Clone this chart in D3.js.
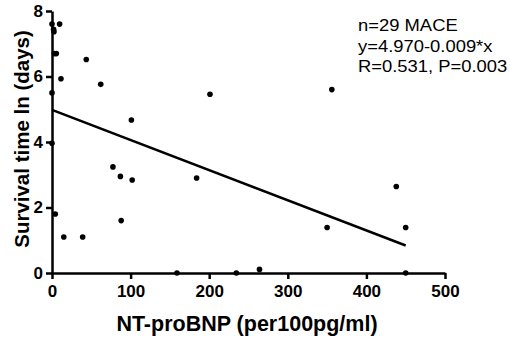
<!DOCTYPE html>
<html>
<head>
<meta charset="utf-8">
<script src="https://cdn.jsdelivr.net/npm/d3@7"></script>
<style>
  body { margin: 0; background: #fff; }
  svg text { font-family: "Liberation Sans", Arial, sans-serif; }
</style>
</head>
<body>
<script>
// NT-proBNP (per100pg/ml) vs survival time ln(days)
const ntProBNP = [0, 9.7, 2, 2.5, 3, 5.5, 43.6, 11.4, 62, 0, 101, 0, 77.5, 87, 102, 4.2, 15, 39, 88,
                  201, 356, 184, 350, 159, 234.5, 264, 438, 450, 450];
const survival = [7.6, 7.6, 7.44, 7.37, 6.7, 6.7, 6.52, 5.93, 5.76, 5.5, 4.67, 3.96, 3.24, 2.95, 2.84, 1.8, 1.1, 1.1, 1.6,
                  5.46, 5.6, 2.9, 1.39, 0, 0, 0.11, 2.64, 1.39, 0];
const fitLine = { intercept: 4.98, slope: -0.0092, xFrom: 0, xTo: 450 };
const xTicks = [0, 100, 200, 300, 400, 500];
const yTicks = [0, 2, 4, 6, 8];
const notes = ["n=29 MACE", "y=4.970-0.009*x", "R=0.531, P=0.003"];

const w = 510, h = 338;
const margin = { left: 52, right: 65, top: 11, bottom: 65 };

const svg = d3.select("body").append("svg")
  .attr("width", w)
  .attr("height", h);

const x = d3.scaleLinear().domain([0, 500]).range([margin.left, w - margin.right]);
const y = d3.scaleLinear().domain([0, 8]).range([h - margin.bottom, margin.top]);

// axes
const xAxis = svg.append("g")
  .attr("transform", "translate(0," + y(0) + ")")
  .call(d3.axisBottom(x).tickValues(xTicks).tickSize(6).tickPadding(6).tickSizeOuter(0));
const yAxis = svg.append("g")
  .attr("transform", "translate(" + x(0) + ",0)")
  .call(d3.axisLeft(y).tickValues(yTicks).tickSize(6).tickPadding(3).tickSizeOuter(0));

[xAxis, yAxis].forEach(function(g) {
  g.select(".domain").attr("stroke", "#000").attr("stroke-width", 2.5);
  g.selectAll(".tick line").attr("stroke", "#000").attr("stroke-width", 2.5);
  g.selectAll(".tick text")
    .attr("fill", "#000")
    .style("font-size", "17px")
    .style("font-weight", "bold");
});

// regression line
svg.append("line")
  .attr("x1", x(fitLine.xFrom))
  .attr("y1", y(fitLine.intercept + fitLine.slope * fitLine.xFrom))
  .attr("x2", x(fitLine.xTo))
  .attr("y2", y(fitLine.intercept + fitLine.slope * fitLine.xTo))
  .attr("stroke", "#000")
  .attr("stroke-width", 2.5);

// points
svg.selectAll("circle")
  .data(ntProBNP)
  .enter()
  .append("circle")
  .attr("cx", function(d) { return x(d); })
  .attr("cy", function(d, i) { return y(survival[i]); })
  .attr("r", 2.8)
  .attr("fill", "#000");

// axis titles
svg.append("text")
  .attr("x", 247)
  .attr("y", 331)
  .attr("text-anchor", "middle")
  .style("font-size", "21.5px")
  .style("font-weight", "bold")
  .text("NT-proBNP (per100pg/ml)");

svg.append("text")
  .attr("transform", "translate(29,139) rotate(-90)")
  .attr("text-anchor", "middle")
  .style("font-size", "20.5px")
  .style("font-weight", "bold")
  .text("Survival time ln (days)");

// annotation (slightly wide lettering in the original)
svg.selectAll(".note")
  .data(notes)
  .enter()
  .append("text")
  .attr("class", "note")
  .attr("transform", function(d, i) { return "translate(358," + (31 + i * 20.7) + ") scale(1.15,1)"; })
  .style("font-size", "16px")
  .text(function(d) { return d; });
</script>
</body>
</html>
